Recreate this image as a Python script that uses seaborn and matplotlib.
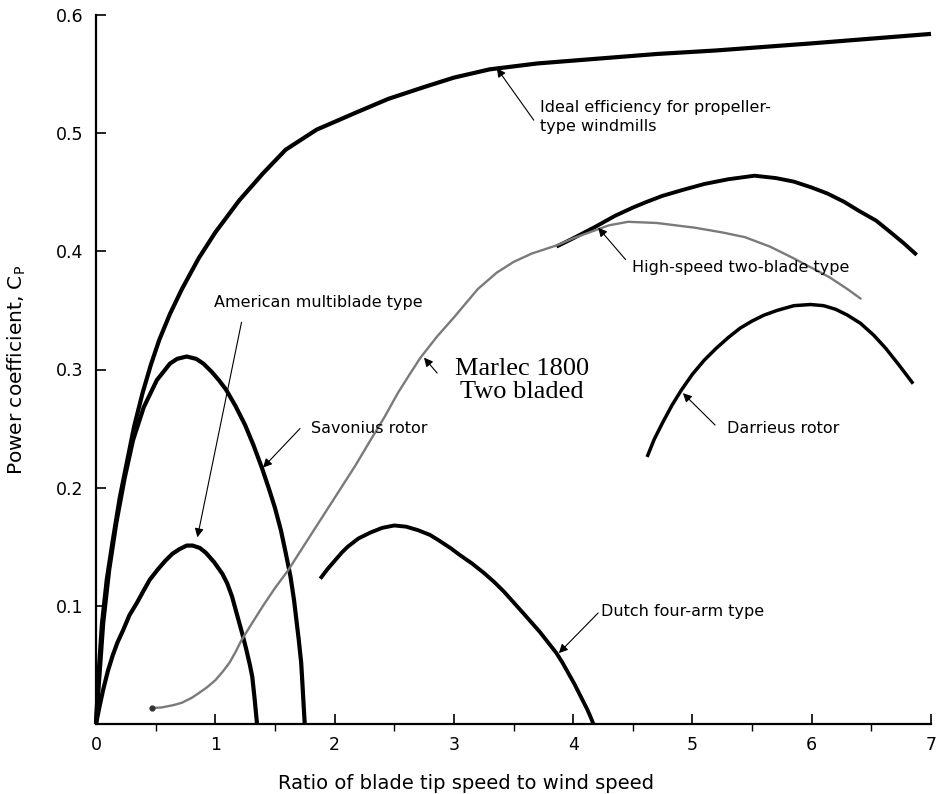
import matplotlib
matplotlib.use("Agg")
import matplotlib.pyplot as plt
from matplotlib.ticker import FixedLocator
import seaborn as sns

# ---------------- data ----------------
ideal_x = [0, 0.02, 0.05, 0.09, 0.14, 0.20, 0.26, 0.32, 0.39, 0.46, 0.53, 0.62, 0.72, 0.86, 1.00,
           1.20, 1.40, 1.59, 1.85, 2.17, 2.45, 2.75, 3.00, 3.30, 3.70, 4.20, 4.70, 5.20, 5.60,
           6.00, 6.50, 7.00]
ideal_y = [0, 0.040, 0.085, 0.122, 0.155, 0.192, 0.222, 0.252, 0.280, 0.304, 0.325, 0.347, 0.368,
           0.394, 0.416, 0.443, 0.466, 0.486, 0.503, 0.517, 0.529, 0.539, 0.547, 0.554, 0.559,
           0.563, 0.567, 0.570, 0.573, 0.576, 0.580, 0.584]

savonius_x = [0, 0.06, 0.11, 0.17, 0.24, 0.31, 0.40, 0.51, 0.62, 0.68, 0.76, 0.84, 0.90, 0.97,
              1.03, 1.09, 1.17, 1.25, 1.32, 1.39, 1.45, 1.50, 1.55, 1.59, 1.63, 1.66, 1.68,
              1.70, 1.72, 1.73, 1.74, 1.75]
savonius_y = [0, 0.085, 0.130, 0.170, 0.208, 0.240, 0.268, 0.291, 0.305, 0.309, 0.311, 0.309,
              0.305, 0.298, 0.291, 0.283, 0.269, 0.253, 0.236, 0.217, 0.199, 0.183, 0.164,
              0.145, 0.125, 0.105, 0.088, 0.071, 0.052, 0.035, 0.017, 0.0]

multiblade_x = [0, 0.03, 0.06, 0.10, 0.14, 0.18, 0.23, 0.28, 0.34, 0.40, 0.45, 0.52, 0.58, 0.64,
                0.70, 0.76, 0.81, 0.87, 0.92, 0.99, 1.06, 1.10, 1.14, 1.17, 1.20, 1.23, 1.26,
                1.29, 1.31, 1.33, 1.35]
multiblade_y = [0, 0.015, 0.029, 0.045, 0.058, 0.069, 0.080, 0.092, 0.102, 0.113, 0.122, 0.131,
                0.138, 0.144, 0.148, 0.151, 0.151, 0.149, 0.145, 0.137, 0.127, 0.119, 0.108,
                0.097, 0.086, 0.075, 0.063, 0.050, 0.040, 0.021, 0.0]

dutch_x = [1.88, 1.94, 2.00, 2.06, 2.11, 2.20, 2.30, 2.40, 2.50, 2.60, 2.70, 2.80, 2.88, 2.97,
           3.05, 3.15, 3.25, 3.34, 3.42, 3.50, 3.58, 3.65, 3.72, 3.79, 3.86, 3.91, 3.96, 4.01,
           4.05, 4.09, 4.12, 4.15, 4.17]
dutch_y = [0.123, 0.131, 0.138, 0.145, 0.150, 0.157, 0.162, 0.166, 0.168, 0.167, 0.164, 0.160,
           0.155, 0.149, 0.143, 0.136, 0.128, 0.120, 0.112, 0.103, 0.094, 0.086, 0.078, 0.069,
           0.060, 0.052, 0.043, 0.034, 0.026, 0.018, 0.012, 0.005, 0.0]

highspeed_x = [3.86, 4.00, 4.19, 4.35, 4.50, 4.62, 4.75, 4.92, 5.10, 5.30, 5.52, 5.70, 5.85,
               6.00, 6.13, 6.27, 6.40, 6.54, 6.65, 6.77, 6.88]
highspeed_y = [0.404, 0.411, 0.421, 0.430, 0.437, 0.442, 0.447, 0.452, 0.457, 0.461, 0.464,
               0.462, 0.459, 0.454, 0.449, 0.442, 0.434, 0.426, 0.417, 0.407, 0.397]

marlec_x = [0.47, 0.55, 0.65, 0.72, 0.80, 0.86, 0.93, 1.00, 1.06, 1.12, 1.17, 1.22, 1.30, 1.40,
            1.50, 1.61, 1.75, 1.89, 2.03, 2.17, 2.30, 2.42, 2.53, 2.63, 2.72, 2.86, 3.00, 3.10,
            3.20, 3.36, 3.50, 3.65, 3.86, 4.00, 4.19, 4.30, 4.46, 4.70, 5.02, 5.25, 5.44, 5.65,
            5.85, 6.00, 6.15, 6.30, 6.41]
marlec_y = [0.0135, 0.014, 0.016, 0.018, 0.022, 0.026, 0.031, 0.037, 0.044, 0.052, 0.061, 0.071,
            0.084, 0.100, 0.115, 0.130, 0.152, 0.174, 0.196, 0.218, 0.240, 0.260, 0.280, 0.296,
            0.310, 0.328, 0.344, 0.356, 0.368, 0.382, 0.391, 0.398, 0.405, 0.411, 0.418, 0.422,
            0.425, 0.424, 0.420, 0.416, 0.412, 0.404, 0.394, 0.386, 0.378, 0.368, 0.360]

darrieus_x = [4.62, 4.68, 4.75, 4.83, 4.91, 5.00, 5.10, 5.20, 5.30, 5.40, 5.50, 5.60, 5.71, 5.85,
              5.99, 6.10, 6.20, 6.30, 6.41, 6.52, 6.62, 6.73, 6.85]
darrieus_y = [0.226, 0.241, 0.255, 0.270, 0.283, 0.296, 0.308, 0.318, 0.327, 0.335, 0.341, 0.346,
              0.350, 0.354, 0.355, 0.354, 0.351, 0.346, 0.339, 0.329, 0.318, 0.304, 0.288]

x_ticks = [0, 1, 2, 3, 4, 5, 6, 7]
y_ticks = [0.1, 0.2, 0.3, 0.4, 0.5, 0.6]
y_tick_labels = ["0.1", "0.2", "0.3", "0.4", "0.5", "0.6"]

# ---------------- figure ----------------
sns.set_style("ticks")
plt.rcParams['font.family'] = ['DejaVu Sans']
plt.rcParams['text.color'] = 'black'
plt.rcParams['axes.labelcolor'] = 'black'

fig = plt.figure(figsize=(9.4, 7.94), dpi=100)
ax = fig.add_axes([96 / 940, 70 / 794, 835 / 940, 709 / 794])

curves = [
    (ideal_x, ideal_y, 3.0),
    (savonius_x, savonius_y, 3.0),
    (multiblade_x, multiblade_y, 3.0),
    (dutch_x, dutch_y, 2.8),
    (highspeed_x, highspeed_y, 2.8),
    (darrieus_x, darrieus_y, 2.5),
]
for xs, ys, lw in curves:
    sns.lineplot(x=xs, y=ys, sort=False, estimator=None, color="black", lw=lw,
                 ax=ax, clip_on=False, solid_capstyle="butt", solid_joinstyle="round")

sns.lineplot(x=marlec_x, y=marlec_y, sort=False, estimator=None, color="#7a7a7a",
             lw=1.7, ax=ax, clip_on=False, solid_joinstyle="round")
ax.plot([marlec_x[0]], [marlec_y[0]], marker="o", ms=3.5, color="#333333", clip_on=False)

ax.set_xlim(0, 7)
ax.set_ylim(0, 0.6)
ax.set_xticks(x_ticks)
ax.set_xticklabels([str(t) for t in x_ticks])
ax.set_yticks(y_ticks)
ax.set_yticklabels(y_tick_labels)
ax.xaxis.set_minor_locator(FixedLocator([0.5, 1.5, 2.5, 3.5, 4.5, 5.5, 6.5]))

for s in ["top", "right"]:
    ax.spines[s].set_visible(False)
for s in ["left", "bottom"]:
    ax.spines[s].set_linewidth(1.6)
    ax.spines[s].set_color("black")

ax.tick_params(axis="both", which="major", direction="in", length=7, width=1.2,
               labelsize=12.5, pad=9, colors="black")
ax.tick_params(axis="x", which="minor", direction="out", length=5, width=1.0, colors="black")

ax.set_xlabel("Ratio of blade tip speed to wind speed", fontsize=14, color="black")
ax.set_ylabel(r"Power coefficient, C$_\mathregular{P}$", fontsize=14.5, color="black")
ax.xaxis.set_label_coords(0.443, -0.07)
ax.yaxis.set_label_coords(-0.082, 0.5)

# ---------------- annotations ----------------
fs = 11.5
arrow = dict(arrowstyle="-|>", color="black", lw=0.8, mutation_scale=13,
             shrinkA=0, shrinkB=0)

ax.text(3.72, 0.528, "Ideal efficiency for propeller-\ntype windmills", fontsize=fs,
        ha="left", va="top", linespacing=1.35)
ax.annotate("", xy=(3.36, 0.555), xytext=(3.67, 0.511), arrowprops=arrow)

ax.text(4.49, 0.386, "High-speed two-blade type", fontsize=fs, ha="left", va="center")
ax.annotate("", xy=(4.21, 0.420), xytext=(4.44, 0.393), arrowprops=arrow)

ax.text(0.99, 0.357, "American multiblade type", fontsize=fs, ha="left", va="center")
ax.annotate("", xy=(0.85, 0.158), xytext=(1.22, 0.340), arrowprops=arrow)

ax.text(1.80, 0.250, "Savonius rotor", fontsize=fs, ha="left", va="center")
ax.annotate("", xy=(1.40, 0.217), xytext=(1.71, 0.250), arrowprops=arrow)

ax.text(3.57, 0.310, "Marlec 1800\nTwo bladed", fontsize=19, family="Liberation Serif",
        ha="center", va="top", multialignment="center", linespacing=1.1)
ax.annotate("", xy=(2.75, 0.310), xytext=(2.86, 0.297), arrowprops=arrow)

ax.text(5.29, 0.250, "Darrieus rotor", fontsize=fs, ha="left", va="center")
ax.annotate("", xy=(4.92, 0.280), xytext=(5.19, 0.253), arrowprops=arrow)

ax.text(4.23, 0.0955, "Dutch four-arm type", fontsize=fs, ha="left", va="center")
ax.annotate("", xy=(3.88, 0.060), xytext=(4.21, 0.094), arrowprops=arrow)

fig.savefig("out.png", dpi=100, facecolor="white")
